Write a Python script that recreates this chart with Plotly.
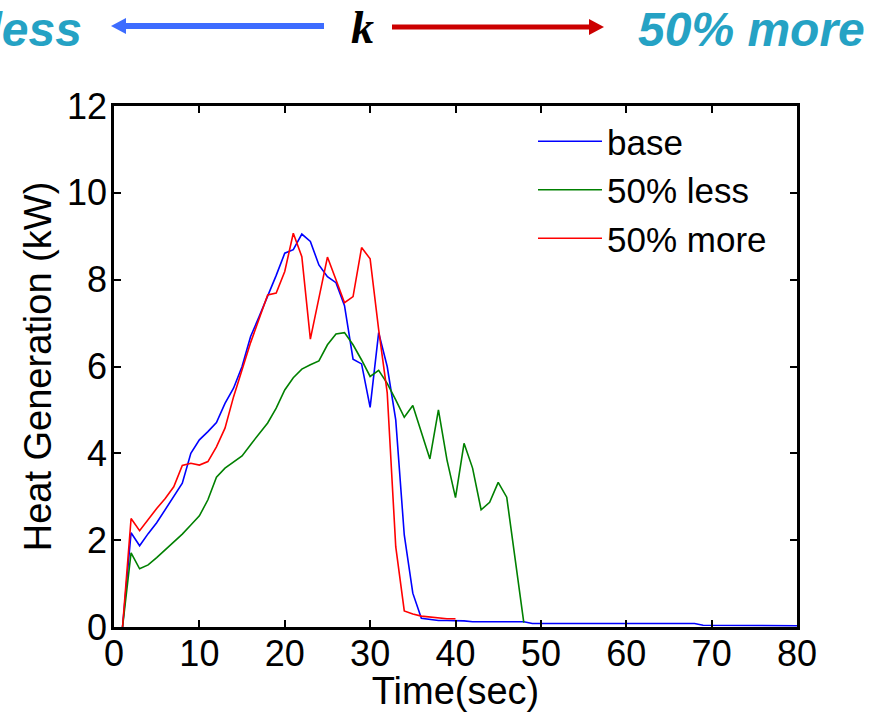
import plotly.graph_objects as go

# Heat generation vs time for three thermal-conductivity (k) cases
base_t = [1, 2, 3, 4, 5, 6, 7, 8, 9, 10, 11, 12, 13, 14, 15, 16, 17, 18, 19, 20,
          21, 22, 23, 24, 25, 26, 27, 28, 29, 30, 31, 32, 33, 34, 35, 36, 37, 38, 39, 40,
          41, 42, 48, 49, 68, 69, 80]
base_q = [0, 2.17, 1.87, 2.15, 2.4, 2.7, 3.0, 3.31, 4.0, 4.31, 4.5, 4.71, 5.15, 5.5, 6.0, 6.69,
          7.15, 7.61, 8.1, 8.61, 8.69, 9.05, 8.88, 8.34, 8.07, 7.93, 7.4, 6.17, 6.06, 5.06,
          6.78, 6.0, 4.77, 2.12, 0.78, 0.2, 0.18, 0.15, 0.15, 0.15, 0.14, 0.12, 0.12, 0.08,
          0.08, 0.04, 0.03]

less_t = [1, 2, 3, 4, 5, 6, 7, 8, 9, 10, 11, 12, 13, 14, 15, 16, 17, 18, 19, 20, 21, 22, 23, 24,
          25, 26, 27, 28, 29, 30, 31, 32, 33, 34, 35, 36, 37, 38, 39, 40, 41, 42, 43, 44, 45, 46,
          47, 48]
less_q = [0, 1.71, 1.34, 1.43, 1.6, 1.78, 1.97, 2.14, 2.35, 2.56, 2.93, 3.45, 3.66, 3.8, 3.94,
          4.2, 4.45, 4.7, 5.04, 5.46, 5.74, 5.94, 6.04, 6.13, 6.5, 6.75, 6.78, 6.5, 6.15, 5.77,
          5.91, 5.61, 5.23, 4.83, 5.1, 4.5, 3.87, 5.0, 3.85, 2.98, 4.23, 3.66, 2.7, 2.87, 3.33,
          2.99, 1.5, 0.1]

more_t = [1, 2, 3, 4, 5, 6, 7, 8, 9, 10, 11, 12, 13, 14, 15, 16, 17, 18, 19, 20, 21, 22, 23, 24,
          25, 26, 27, 28, 29, 30, 31, 32, 33, 34, 35, 36, 37, 38, 39, 40]
more_q = [0, 2.5, 2.22, 2.48, 2.73, 2.96, 3.23, 3.72, 3.77, 3.73, 3.81, 4.15, 4.58, 5.3, 5.95,
          6.55, 7.1, 7.65, 7.69, 8.19, 9.07, 8.53, 6.63, 7.6, 8.52, 8.0, 7.47, 7.61, 8.74, 8.48,
          6.85, 5.4, 1.85, 0.37, 0.3, 0.25, 0.23, 0.22, 0.19, 0.19]

series = [
    ("base", base_t, base_q, "#0000FF"),
    ("50% less", less_t, less_q, "#008000"),
    ("50% more", more_t, more_q, "#FF0000"),
]

x_ticks = [0, 10, 20, 30, 40, 50, 60, 70, 80]
y_ticks = [0, 2, 4, 6, 8, 10, 12]

W, H = 869, 712
L, R, T, B = 114, 72, 106, 85
PW, PH = W - L - R, H - T - B

def px(x):
    return (x - L) / PW

def py(y):
    return (H - B - y) / PH

FONT = "Liberation Sans, Arial, sans-serif"
TEAL = "#25A2C4"

fig = go.Figure()
for name, t, q, c in series:
    fig.add_trace(go.Scatter(x=t, y=q, mode="lines", name=name,
                             line=dict(color=c, width=1.6)))

axis_common = dict(showgrid=False, zeroline=False, showline=True, linecolor="black",
                   linewidth=2.5, mirror="ticks", ticks="inside", ticklen=7,
                   tickwidth=1.5, tickcolor="black", automargin=False,
                   tickfont=dict(family=FONT, size=36, color="black"))

fig.update_xaxes(range=[0, 80], tickvals=x_ticks, ticklabelstandoff=-7,
                 title=dict(text="Time(sec)", font=dict(family=FONT, size=38, color="black"),
                            standoff=0),
                 **axis_common)
fig.update_yaxes(range=[0, 12], tickvals=y_ticks, ticklabelstandoff=-3,
                 title=dict(text="Heat Generation (kW)",
                            font=dict(family=FONT, size=38, color="black"), standoff=4),
                 **axis_common)

# header: "50% less  <-  k  ->  50% more"
shapes = [
    dict(type="line", xref="paper", yref="paper", x0=px(122), x1=px(324), y0=py(26), y1=py(26),
         line=dict(color="#3D6CFF", width=6)),
    dict(type="path", xref="paper", yref="paper",
         path=f"M {px(111)},{py(26)} L {px(126)},{py(18)} L {px(126)},{py(34)} Z",
         fillcolor="#3D6CFF", line=dict(width=0)),
    dict(type="line", xref="paper", yref="paper", x0=px(392), x1=px(592), y0=py(27), y1=py(27),
         line=dict(color="#CC0000", width=5)),
    dict(type="path", xref="paper", yref="paper",
         path=f"M {px(604)},{py(27)} L {px(589)},{py(19)} L {px(589)},{py(35)} Z",
         fillcolor="#CC0000", line=dict(width=0)),
]

annotations = [
    dict(text="<b><i>50% less</i></b>", xref="paper", yref="paper", x=px(84), y=py(30),
         xanchor="right", yanchor="middle", showarrow=False,
         font=dict(family=FONT, size=48, color=TEAL)),
    dict(text="<b><i>50% more</i></b>", xref="paper", yref="paper", x=px(636), y=py(30),
         xanchor="left", yanchor="middle", showarrow=False,
         font=dict(family=FONT, size=48, color=TEAL)),
    dict(text="<b><i>k</i></b>", xref="paper", yref="paper", x=px(362), y=py(27),
         xanchor="center", yanchor="middle", showarrow=False,
         font=dict(family="Liberation Serif, Times New Roman, serif", size=46, color="black")),
]

fig.update_layout(
    width=W, height=H,
    margin=dict(l=L, r=R, t=T, b=B, pad=0),
    paper_bgcolor="white", plot_bgcolor="white",
    shapes=shapes, annotations=annotations,
    legend=dict(x=px(533), y=py(112), xanchor="left", yanchor="top",
                bgcolor="rgba(0,0,0,0)", borderwidth=0, itemwidth=64,
                font=dict(family=FONT, size=35, color="black"), tracegroupgap=0),
    showlegend=True,
)

fig.write_html("out.html")
